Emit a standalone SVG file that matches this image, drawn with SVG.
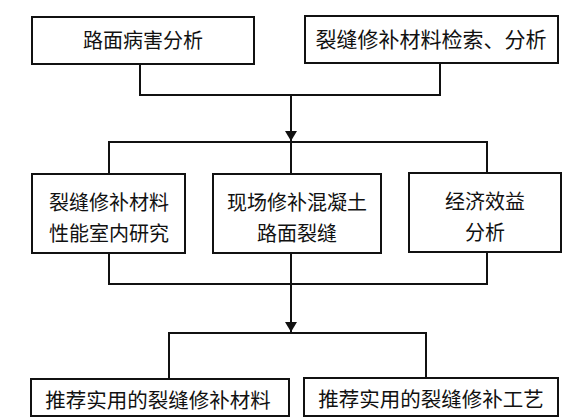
<svg xmlns="http://www.w3.org/2000/svg" width="579" height="418" viewBox="0 0 579 418">
<style>
.box{fill:#fff;stroke:#111;stroke-width:2}
.ln{fill:none;stroke:#111;stroke-width:2}
text{font-family:"Noto Sans CJK SC","Noto Sans",sans-serif;font-size:20px;fill:#111;text-anchor:middle;dominant-baseline:central}
.lg{font-size:21px}
.bt{font-size:20.5px}
</style>
<defs>
<marker id="ar" viewBox="0 0 10 12" refX="10" refY="6" markerWidth="10" markerHeight="12" markerUnits="userSpaceOnUse" orient="auto">
<path d="M0,0 L10,6 L0,12 Z" fill="#111"/>
</marker>
</defs>
<rect width="579" height="418" fill="#fff"/>
<g id="connectors">
<path class="ln" d="M140,64 V95 H440 V63"/>
<path class="ln" d="M291,95 V141" marker-end="url(#ar)"/>
<path class="ln" d="M109,174 V142 H487 V173"/>
<path class="ln" d="M291,142 V174"/>
<path class="ln" d="M109,253 V284 H487 V252"/>
<path class="ln" d="M291,253 V284"/>
<path class="ln" d="M291,284 V332" marker-end="url(#ar)"/>
<path class="ln" d="M169,379 V333 H426 V378"/>
</g>
<g id="n1"><rect class="box" x="32" y="17" width="222" height="47"/><text x="143" y="39">路面病害分析</text></g>
<g id="n2"><rect class="box" x="305" y="16" width="253" height="47"/><text class="lg" x="431" y="38">裂缝修补材料检索、分析</text></g>
<g id="n3"><rect class="box" x="32" y="174" width="153" height="79"/><text x="109" y="201">裂缝修补材料</text><text x="109" y="232">性能室内研究</text></g>
<g id="n4"><rect class="box" x="213" y="174" width="168" height="79"/><text x="297" y="201">现场修补混凝土</text><text x="297" y="232">路面裂缝</text></g>
<g id="n5"><rect class="box" x="409" y="173" width="152" height="79"/><text x="485" y="200">经济效益</text><text x="485" y="231">分析</text></g>
<g id="n6"><rect class="box" x="31" y="379" width="258" height="37"/><text class="bt" x="158" y="399">推荐实用的裂缝修补材料</text></g>
<g id="n7"><rect class="box" x="304" y="378" width="254" height="38"/><text class="bt" x="431" y="398">推荐实用的裂缝修补工艺</text></g>
</svg>
